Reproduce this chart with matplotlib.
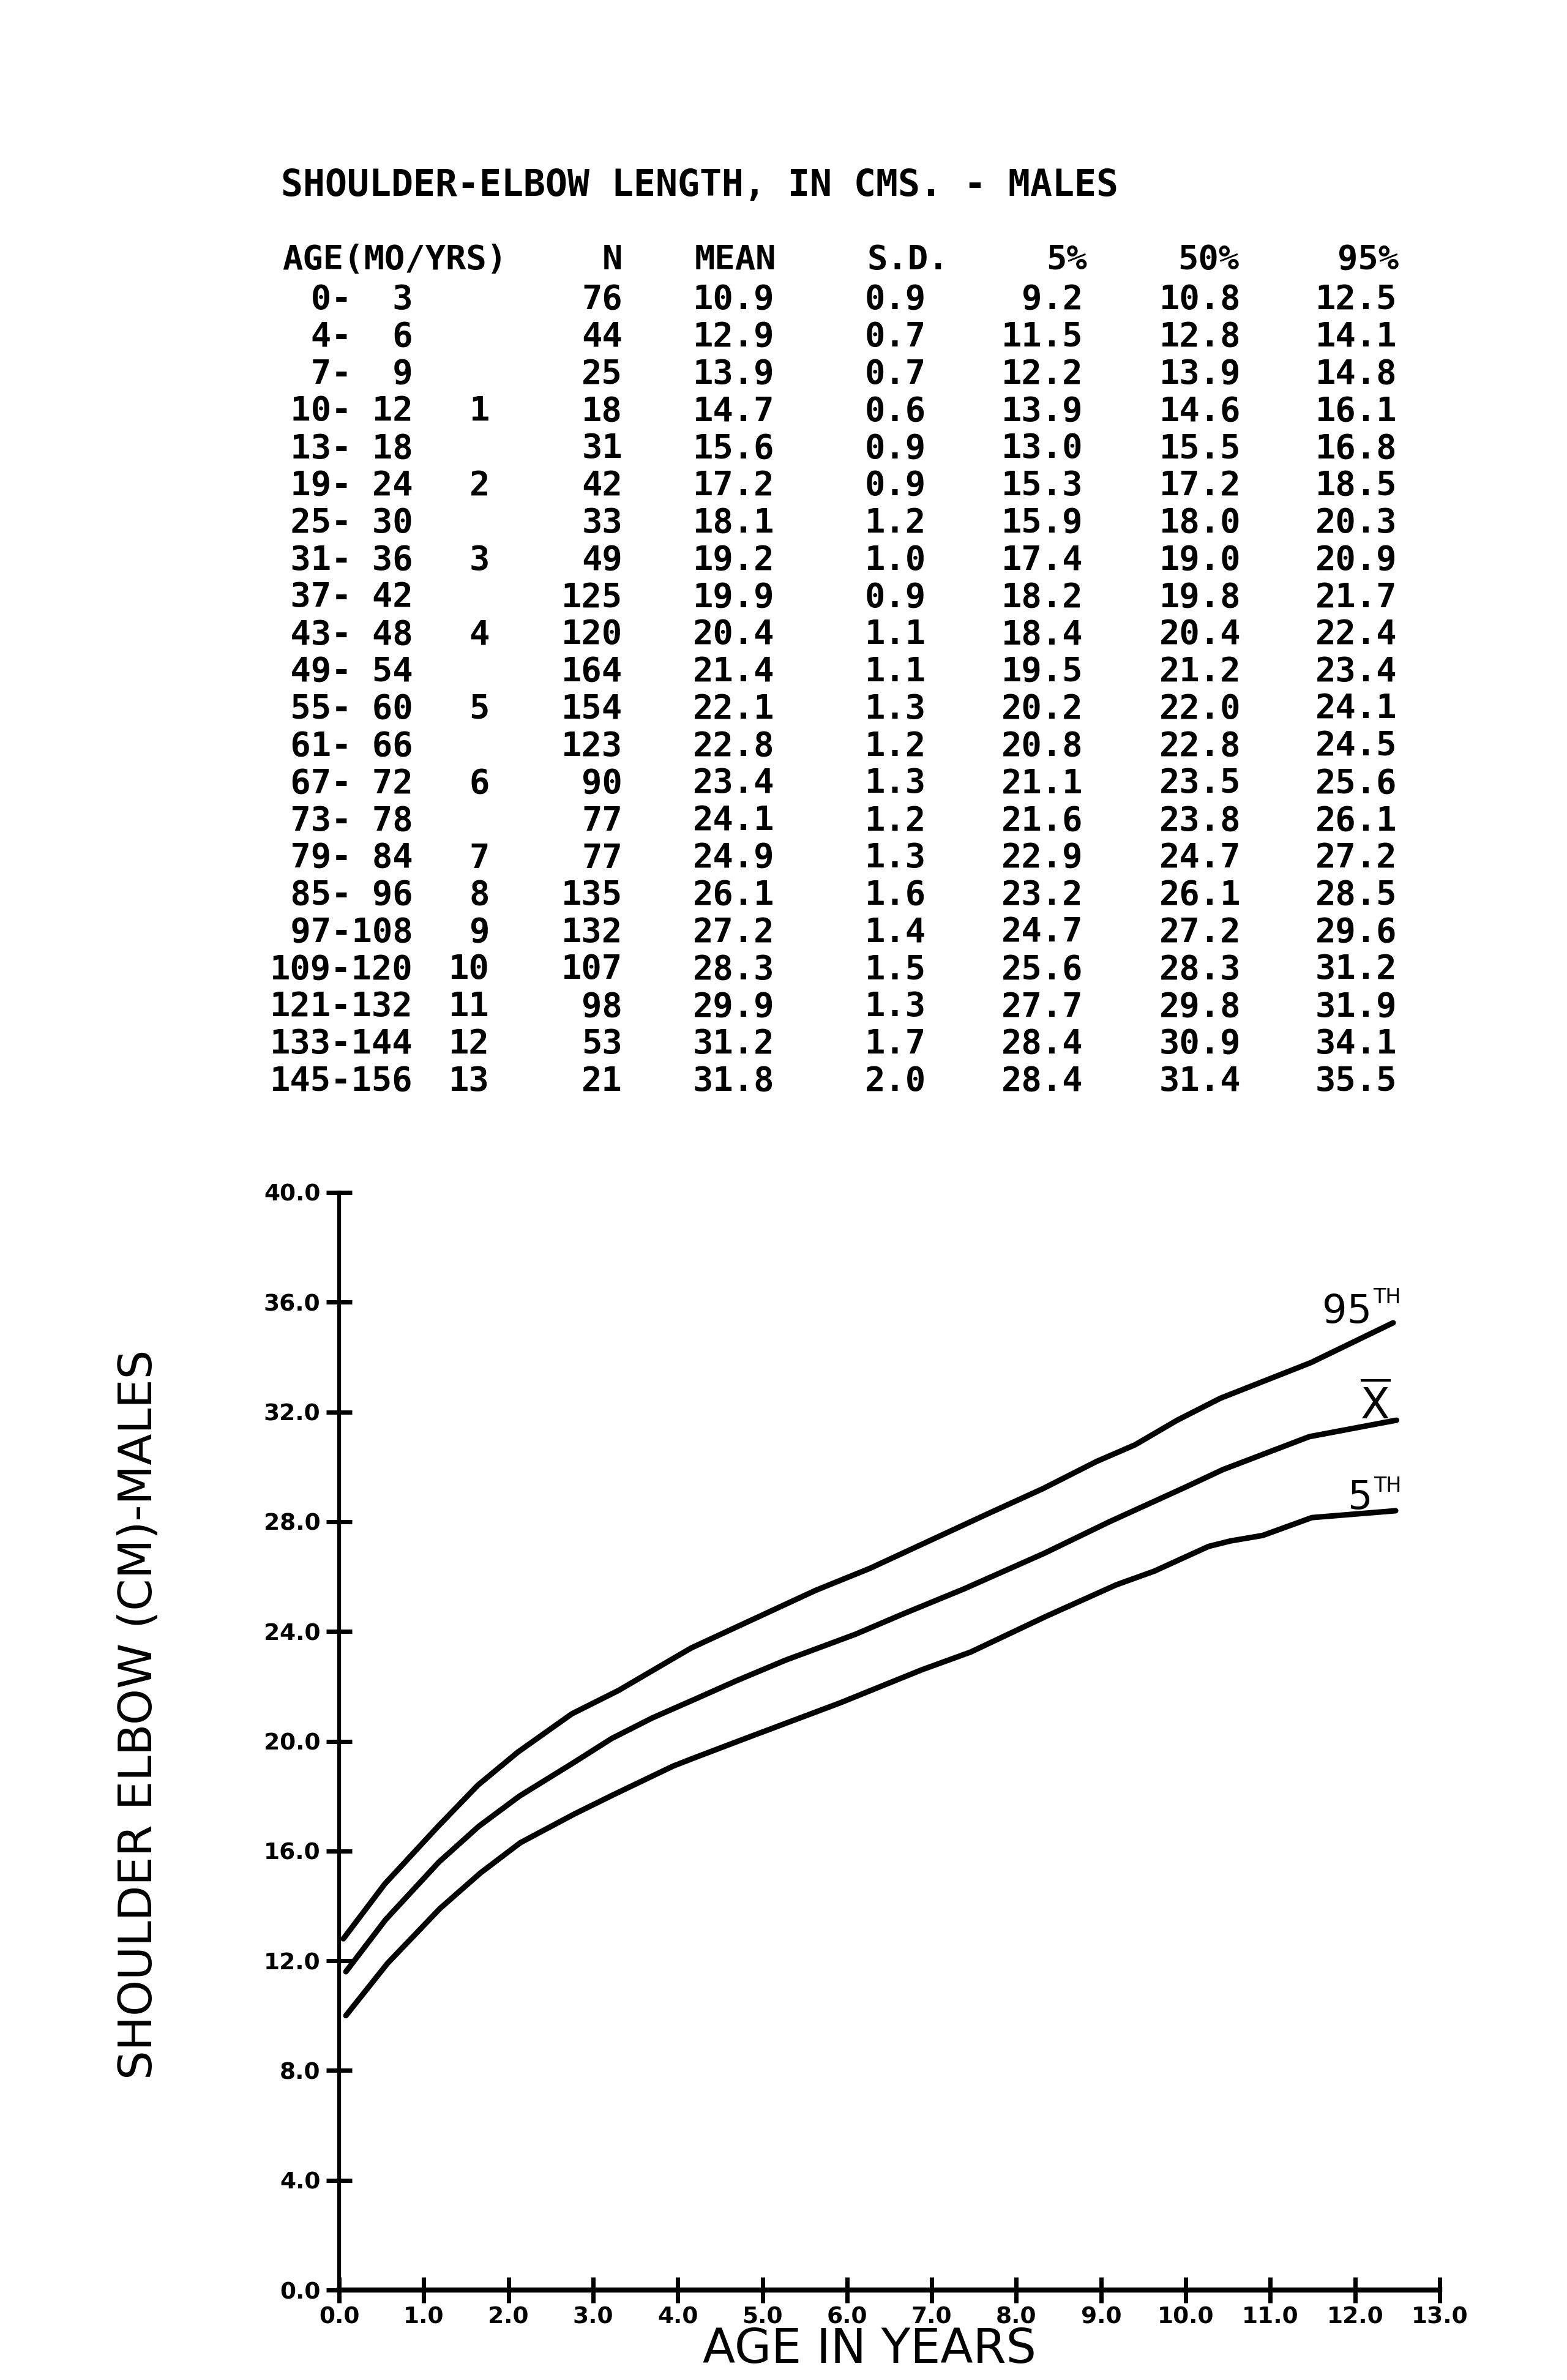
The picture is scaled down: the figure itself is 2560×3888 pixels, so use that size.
import matplotlib
matplotlib.use("Agg")
import matplotlib.pyplot as plt

# ---------------- table data ----------------
age_from = [0, 4, 7, 10, 13, 19, 25, 31, 37, 43, 49, 55, 61, 67, 73, 79, 85, 97, 109, 121, 133, 145]
age_to = [3, 6, 9, 12, 18, 24, 30, 36, 42, 48, 54, 60, 66, 72, 78, 84, 96, 108, 120, 132, 144, 156]
age_years = ["", "", "", "1", "", "2", "", "3", "", "4", "", "5", "", "6", "", "7", "8", "9",
             "10", "11", "12", "13"]
n_vals = [76, 44, 25, 18, 31, 42, 33, 49, 125, 120, 164, 154, 123, 90, 77, 77, 135, 132, 107, 98, 53, 21]
mean_vals = [10.9, 12.9, 13.9, 14.7, 15.6, 17.2, 18.1, 19.2, 19.9, 20.4, 21.4, 22.1, 22.8, 23.4,
             24.1, 24.9, 26.1, 27.2, 28.3, 29.9, 31.2, 31.8]
sd_vals = [0.9, 0.7, 0.7, 0.6, 0.9, 0.9, 1.2, 1.0, 0.9, 1.1, 1.1, 1.3, 1.2, 1.3, 1.2, 1.3, 1.6,
           1.4, 1.5, 1.3, 1.7, 2.0]
p5_vals = [9.2, 11.5, 12.2, 13.9, 13.0, 15.3, 15.9, 17.4, 18.2, 18.4, 19.5, 20.2, 20.8, 21.1,
           21.6, 22.9, 23.2, 24.7, 25.6, 27.7, 28.4, 28.4]
p50_vals = [10.8, 12.8, 13.9, 14.6, 15.5, 17.2, 18.0, 19.0, 19.8, 20.4, 21.2, 22.0, 22.8, 23.5,
            23.8, 24.7, 26.1, 27.2, 28.3, 29.8, 30.9, 31.4]
p95_vals = [12.5, 14.1, 14.8, 16.1, 16.8, 18.5, 20.3, 20.9, 21.7, 22.4, 23.4, 24.1, 24.5, 25.6,
            26.1, 27.2, 28.5, 29.6, 31.2, 31.9, 34.1, 35.5]

title = "SHOULDER-ELBOW LENGTH, IN CMS. - MALES"
headers = ["N", "MEAN", "S.D.", "5%", "50%", "95%"]

# ---------------- curves ----------------
age_c95 = [0.05, 0.54, 1.17, 1.64, 2.11, 2.75, 3.3, 3.91, 4.16, 4.93, 5.63, 6.27, 6.97, 7.67,
           8.31, 8.95, 9.40, 9.90, 10.41, 11.48, 12.45]
curve_p95 = [12.8, 14.8, 16.9, 18.4, 19.6, 21.0, 21.85, 22.95, 23.4, 24.5, 25.5, 26.3, 27.3, 28.3,
             29.2, 30.2, 30.8, 31.7, 32.5, 33.8, 35.25]
age_cmean = [0.08, 0.55, 1.18, 1.65, 2.13, 2.76, 3.22, 3.70, 4.18, 4.69, 5.27, 6.10, 6.67, 7.38,
             8.33, 9.10, 9.99, 10.44, 11.46, 12.49]
curve_mean = [11.6, 13.5, 15.6, 16.9, 18.0, 19.2, 20.1, 20.85, 21.5, 22.2, 22.95, 23.9, 24.65, 25.55,
              26.85, 28.0, 29.25, 29.9, 31.1, 31.7]
age_c5 = [0.08, 0.57, 1.19, 1.67, 2.14, 2.78, 3.24, 3.95, 4.20, 4.84, 5.92, 6.88, 7.46, 8.35,
          9.18, 9.63, 10.27, 10.53, 10.91, 11.49, 12.48]
curve_p5 = [10.0, 11.9, 13.9, 15.2, 16.3, 17.35, 18.05, 19.1, 19.4, 20.15, 21.4, 22.6, 23.25, 24.55,
            25.7, 26.2, 27.1, 27.3, 27.5, 28.15, 28.4]

x_ticks = list(range(0, 14))
y_ticks = list(range(0, 41, 4))

# ---------------- figure ----------------
W, H = 2560, 3888
fig = plt.figure(figsize=(W / 100, H / 100), dpi=100)
fig.patch.set_facecolor("white")


def fx(x):
    return x / W


def fy(y):
    return 1 - y / H


MONO = ["DejaVu Sans Mono"]
SANS = ["DejaVu Sans"]

# title
fig.text(fx(459), fy(320), title, fontsize=43, fontweight="bold", family=MONO,
         ha="left", va="baseline")

# header row
hdr_base = 440
fig.text(fx(461), fy(hdr_base), "AGE(MO/YRS)", fontsize=40, fontweight="bold", family=MONO,
         ha="left", va="baseline")
col_right = [1017, 1265, 1513, 1769, 2027, 2282]
hdr_right = [1017, 1268, 1550, 1776, 2024, 2285]
for h, xr in zip(headers, hdr_right):
    fig.text(fx(xr), fy(hdr_base), h, fontsize=40, fontweight="bold", family=MONO,
             ha="right", va="baseline")

row0 = 505
dy = 60.8
for i in range(len(age_from)):
    yb = row0 + i * dy
    kw = dict(fontsize=40, fontweight="bold", family=MONO, va="baseline")
    fig.text(fx(441), fy(yb), f"{age_from[i]:>3}-{age_to[i]:>3}", ha="left", **kw)
    fig.text(fx(800), fy(yb), age_years[i], ha="right", **kw)
    vals = [str(n_vals[i]), f"{mean_vals[i]:.1f}", f"{sd_vals[i]:.1f}",
            f"{p5_vals[i]:.1f}", f"{p50_vals[i]:.1f}", f"{p95_vals[i]:.1f}"]
    for v, xr in zip(vals, col_right):
        fig.text(fx(xr), fy(yb), v, ha="right", **kw)

# ---------------- plot ----------------
ax_l, ax_r, ax_b, ax_t = 554, 2352, 3741, 1948
ax = fig.add_axes([fx(ax_l), fy(ax_b), (ax_r - ax_l) / W, (ax_b - ax_t) / H])
ax.set_facecolor("none")

for xs, ys in [(age_c95, curve_p95), (age_cmean, curve_mean), (age_c5, curve_p5)]:
    ax.plot(xs, ys, color="black", lw=6.5, solid_capstyle="round", solid_joinstyle="round")

ax.set_xlim(0, 13)
ax.set_ylim(0, 40)
for s in ["top", "right"]:
    ax.spines[s].set_visible(False)
ax.spines["left"].set_linewidth(4.5)
ax.spines["bottom"].set_linewidth(6)

ax.set_xticks(x_ticks)
ax.set_xticklabels([f"{v:.1f}" for v in x_ticks], fontsize=27, fontweight="bold")
ax.set_yticks(y_ticks)
ax.set_yticklabels([f"{v:.1f}" for v in y_ticks], fontsize=27, fontweight="bold")
ax.tick_params(axis="both", direction="inout", length=30, width=5)
ax.tick_params(axis="x", pad=4)
ax.tick_params(axis="y", pad=7)

# curve labels
ax.text(12.2, 35.25, "95", fontsize=46, family=SANS, ha="right", va="baseline")
ax.text(12.21, 35.96, "TH", fontsize=24, family=SANS, ha="left", va="baseline")
ax.text(12.24, 31.76, r"$\overline{\mathsf{X}}$", fontsize=50, ha="center", va="baseline")
ax.text(12.2, 28.47, "5", fontsize=46, family=SANS, ha="right", va="baseline")
ax.text(12.22, 29.09, "TH", fontsize=24, family=SANS, ha="left", va="baseline")

# axis titles
fig.text(fx(227), fy(2801), "SHOULDER ELBOW (CM)-MALES", fontsize=54, family=SANS,
         rotation=90, ha="center", va="center")
fig.text(fx(1420), fy(3838), "AGE IN YEARS", fontsize=56, family=SANS,
         ha="center", va="center")

fig.savefig("out.png", dpi=100, facecolor="white")
